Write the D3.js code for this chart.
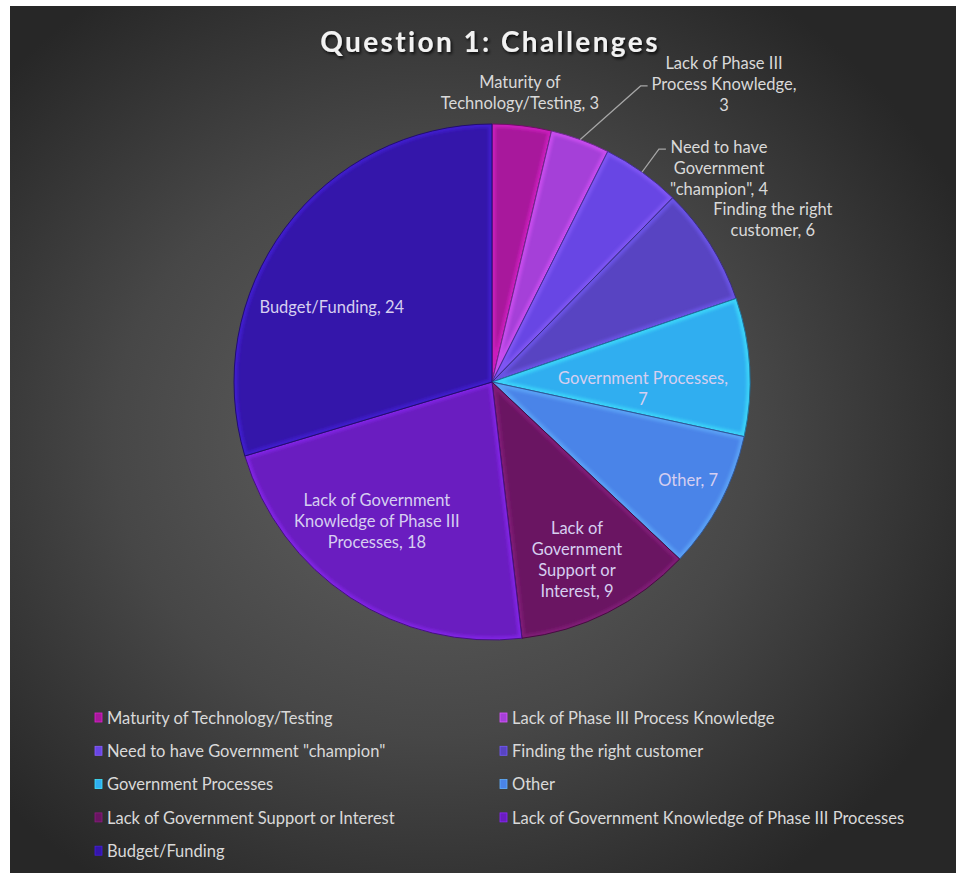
<!DOCTYPE html>
<html>
<head>
<meta charset="utf-8">
<script src="https://cdn.jsdelivr.net/npm/d3@7/dist/d3.min.js"></script>
<style>
  html, body { margin: 0; padding: 0; background: #ffffff; }
  svg { display: block; }
</style>
</head>
<body>
<svg id="chart" width="960" height="873"></svg>
<script>
// Survey responses: challenges reported for Question 1
const categories = [
  "Maturity of Technology/Testing",
  "Lack of Phase III Process Knowledge",
  "Need to have Government \"champion\"",
  "Finding the right customer",
  "Government Processes",
  "Other",
  "Lack of Government Support or Interest",
  "Lack of Government Knowledge of Phase III Processes",
  "Budget/Funding"
];
const values = [3, 3, 4, 6, 7, 7, 9, 18, 24];

// Slice palette
const colors = [
  "#a8189c", "#a540d8", "#6846e4", "#5844c2", "#30aef0",
  "#4a84e8", "#6a1562", "#6a1dc0", "#3416aa"
];

// Data-label layout: words per line, polar placement (degrees, fraction of radius)
const labelBreaks = [[2, 2], [4, 2, 1], [3, 1, 2], [3, 2], [2, 1], [2], [2, 1, 2, 2], [3, 4, 2], [2]];
const labelAngle  = [5.5, 37.9, 46.7, 60.0, 92.7, 116.6, 154.5, 219.6, 295.1];
const labelRadius = [1.128, 1.464, 1.209, 1.257, 0.586, 0.85, 0.765, 0.70, 0.686];
const labelInside = [false, false, false, false, true, true, true, true, true];
const leaderLine  = [null, 1, 0, null, null, null, null, null, null];

const W = 960, H = 873;
const cx = 492, cy = 382, R = 258;

const svg = d3.select("#chart");
const defs = svg.append("defs");

// Panel background
const bg = defs.append("radialGradient").attr("id", "bgGrad")
  .attr("cx", "0.45").attr("cy", "0.5").attr("r", "0.62");
bg.append("stop").attr("offset", "0").attr("stop-color", "#626262");
bg.append("stop").attr("offset", "0.55").attr("stop-color", "#474747");
bg.append("stop").attr("offset", "1").attr("stop-color", "#272727");

svg.append("rect").attr("x", 10).attr("y", 6).attr("width", 946).attr("height", 867)
  .attr("fill", "url(#bgGrad)");

// Filters
const blur = defs.append("filter").attr("id", "soft").attr("x", "-10%").attr("y", "-10%")
  .attr("width", "120%").attr("height", "120%");
blur.append("feGaussianBlur").attr("stdDeviation", 1.6);

const shadow = defs.append("filter").attr("id", "titleShadow")
  .attr("x", "-10%").attr("y", "-30%").attr("width", "120%").attr("height", "160%");
shadow.append("feDropShadow").attr("dx", 1.5).attr("dy", 2).attr("stdDeviation", 1.5)
  .attr("flood-color", "#000").attr("flood-opacity", 0.8);

// Title
svg.append("text")
  .attr("x", 490).attr("y", 52)
  .attr("text-anchor", "middle")
  .attr("font-family", "Lato, 'Open Sans', sans-serif")
  .attr("font-weight", 700)
  .attr("font-size", 28)
  .attr("letter-spacing", 2.4)
  .attr("fill", "#f2f2f2")
  .attr("filter", "url(#titleShadow)")
  .text("Question 1: Challenges");

// Pie
const pie = d3.pie().sort(null).value(d => d)(values);
const arc = d3.arc().innerRadius(0).outerRadius(R);
const g = svg.append("g").attr("transform", `translate(${cx},${cy})`);

const slices = g.selectAll("g.slice").data(pie).join("g").attr("class", "slice");

slices.each(function (d, i) {
  defs.append("clipPath").attr("id", "clip" + i)
    .append("path").attr("d", arc(d));
});

slices.append("path")
  .attr("d", arc)
  .attr("fill", (d, i) => colors[i]);

// Bevel highlight along slice edges
slices.append("path")
  .attr("d", arc)
  .attr("fill", "none")
  .attr("stroke", (d, i) => d3.color(colors[i]).brighter(0.9))
  .attr("stroke-width", 7)
  .attr("stroke-opacity", 0.55)
  .attr("filter", "url(#soft)")
  .attr("clip-path", (d, i) => `url(#clip${i})`);

slices.append("path")
  .attr("d", arc)
  .attr("fill", "none")
  .attr("stroke", (d, i) => d3.color(colors[i]).darker(1.2))
  .attr("stroke-width", 1);

// Data labels
const font = "Lato, 'Open Sans', sans-serif";
const fontSize = 16.5;
const lineH = 21;
const toXY = (deg, r) => {
  const a = deg * Math.PI / 180;
  return [r * Math.sin(a), -r * Math.cos(a)];
};

pie.forEach((d, i) => {
  const words = `${categories[i]}, ${values[i]}`.split(" ");
  const lines = [];
  let k = 0;
  labelBreaks[i].forEach(n => { lines.push(words.slice(k, k + n).join(" ")); k += n; });
  const [lx, ly] = toXY(labelAngle[i], labelRadius[i] * R);
  const t = g.append("text")
    .attr("text-anchor", "middle")
    .attr("font-family", font)
    .attr("font-size", fontSize)
    .attr("fill", labelInside[i] ? "#d6cff0" : "#d9d9d9");
  lines.forEach((s, j) => {
    t.append("tspan")
      .attr("x", lx)
      .attr("y", ly + (j - (lines.length - 1) / 2) * lineH)
      .attr("dy", "0.35em")
      .text(s);
  });

  if (leaderLine[i] !== null) {
    const mid = (d.startAngle + d.endAngle) / 2 * 180 / Math.PI;
    const [sx, sy] = toXY(mid, R);
    let maxW = 0;
    t.selectAll("tspan").each(function () { maxW = Math.max(maxW, this.getComputedTextLength()); });
    const ey = ly + (leaderLine[i] - (lines.length - 1) / 2) * lineH + 2;
    const ex = lx - maxW / 2 - 4;
    g.append("path")
      .attr("d", d3.line()([[sx, sy], [ex - 7, ey], [ex, ey]]))
      .attr("fill", "none")
      .attr("stroke", "#a6a6a6")
      .attr("stroke-width", 1.2);
  }
});

// Legend
const legendX = [95, 500], legendY0 = 718, legendStep = 33.3;
const legend = svg.append("g");
categories.forEach((c, i) => {
  const col = i % 2, row = Math.floor(i / 2);
  const x = legendX[col], y = legendY0 + row * legendStep;
  legend.append("rect")
    .attr("x", x).attr("y", y - 5).attr("width", 7).attr("height", 9)
    .attr("fill", colors[i])
    .attr("stroke", d3.color(colors[i]).brighter(0.8))
    .attr("stroke-width", 0.8);
  legend.append("text")
    .attr("x", x + 12).attr("y", y)
    .attr("dy", "0.35em")
    .attr("font-family", font)
    .attr("font-size", fontSize)
    .attr("fill", "#d9d9d9")
    .text(c);
});
</script>
</body>
</html>
